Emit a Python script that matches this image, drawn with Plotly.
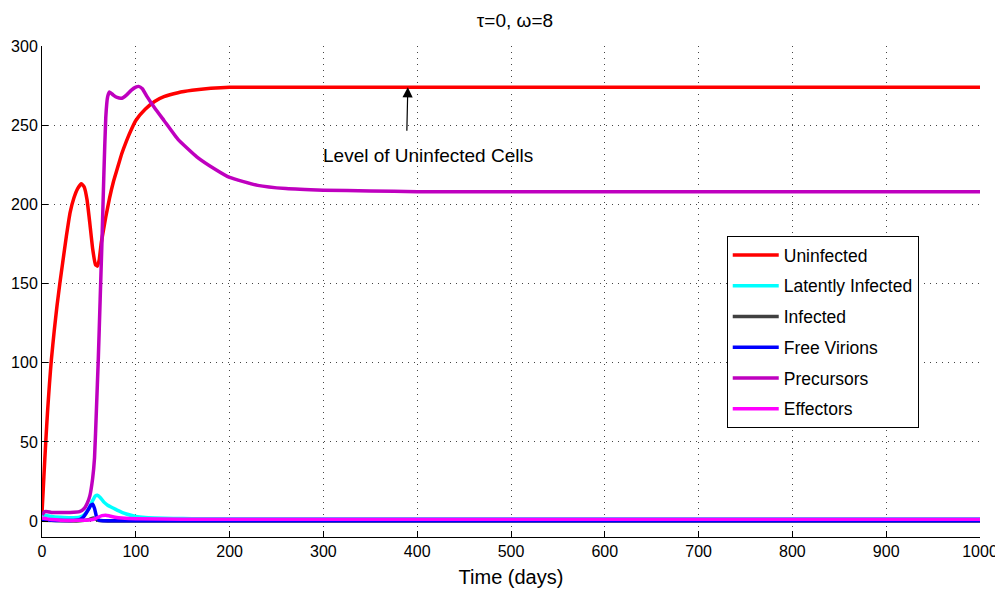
import plotly.graph_objects as go

# ---------------- data ----------------
t_uninf = [0, 2, 4, 6, 8, 10, 13, 16, 19, 22, 26, 30, 34, 38, 42, 45, 48, 51, 54, 57, 59,
           61, 63, 65, 68, 72, 76, 80, 85, 90, 95, 100, 110, 120, 130, 145, 160, 180, 200,
           250, 300, 400, 500, 600, 700, 800, 900, 1000]
v_uninf = [5, 28, 50, 70, 87, 102, 120, 136, 150, 163, 180, 195, 204, 210, 213, 211, 203, 188,
           172, 162, 161, 165, 175, 182, 192, 204, 214, 222, 232, 240, 247, 253, 260, 265, 268,
           270.5, 272, 273.3, 274, 274, 274, 274, 274, 274, 274, 274, 274, 274]

t_latent = [0, 5, 10, 20, 30, 40, 45, 50, 54, 57, 59, 62, 66, 70, 75, 80, 90, 100, 110, 120,
            140, 160, 200, 300, 1000]
v_latent = [4, 3.5, 3, 2.5, 2.2, 2.5, 4, 8, 13, 16, 16.4, 15, 12, 10, 8.5, 7, 4.5, 3, 2.3, 2,
            1.7, 1.6, 1.5, 1.5, 1.5]

t_infected = [0, 40, 50, 55, 60, 70, 1000]
v_infected = [0.5, 0.2, 1, 2, 0.5, 0.1, 0.1]

t_virions = [0, 10, 20, 30, 40, 44, 47, 50, 52, 54, 56, 58, 60, 65, 70, 100, 1000]
v_virions = [1, 0.6, 0.4, 0.4, 1, 2.5, 5, 8, 10, 10.7, 8, 3, 0.8, 0.3, 0.2, 0.2, 0.2]

t_precursors = [0, 3, 6, 10, 20, 30, 40, 45, 48, 51, 54, 56, 58, 60, 62, 64, 66, 68, 70, 72,
                76, 80, 85, 90, 95, 100, 103, 107, 112, 120, 130, 145, 165, 185, 200, 230,
                260, 300, 350, 400, 500, 600, 700, 800, 900, 1000]
v_precursors = [4, 6, 6, 5.5, 5.5, 5.5, 6, 8, 11, 16, 27, 40, 70, 102, 140, 178, 220, 255,
                268, 271, 269, 267.5, 267, 269, 272, 274, 274.5, 273, 268, 261, 253, 241,
                230, 222, 217, 212, 210, 209, 208.5, 208, 208, 208, 208, 208, 208, 208]

t_effectors = [0, 5, 10, 20, 40, 50, 55, 60, 64, 68, 72, 78, 85, 100, 150, 1000]
v_effectors = [2, 1.5, 1, 0.6, 0.5, 0.7, 1.2, 2.5, 3.5, 3.8, 3.3, 2.5, 2, 1.5, 1.2, 1.2]

series_names = ["Uninfected", "Latently Infected", "Infected", "Free Virions",
                "Precursors", "Effectors"]
series_colors = ["#FF0000", "#00FFFF", "#404040", "#0000FF", "#BF00BF", "#FF00FF"]

x_ticks = [0, 100, 200, 300, 400, 500, 600, 700, 800, 900, 1000]
y_ticks = [0, 50, 100, 150, 200, 250, 300]

annot_text = "Level of Uninfected Cells"
annot_point = (390, 274)
annot_text_pos = (412, 231)

# ---------------- figure ----------------
FONT = "Liberation Sans, Arial, Helvetica, sans-serif"
xs = [t_uninf, t_latent, t_infected, t_virions, t_precursors, t_effectors]
ys = [v_uninf, v_latent, v_infected, v_virions, v_precursors, v_effectors]

fig = go.Figure()
for i, (name, col, x, y) in enumerate(zip(series_names, series_colors, xs, ys)):
    fig.add_trace(go.Scatter(
        x=x, y=y, mode="lines", name=name, legendgroup=str(i),
        line=dict(color=col, width=3.5, shape="spline", smoothing=0.4),
    ))

axis_common = dict(
    showline=True, linecolor="black", linewidth=1,
    ticks="inside", ticklen=6, tickcolor="black",
    showgrid=True, gridcolor="#444444", gridwidth=1, griddash="1px,5px",
    zeroline=False, mirror=False, automargin=False,
    tickfont=dict(family=FONT, size=16, color="black"),
)

fig.update_xaxes(range=[0, 1000], tickvals=x_ticks, **axis_common,
                 title=dict(text="Time (days)", font=dict(family=FONT, size=20, color="black"),
                            standoff=10))
fig.update_yaxes(range=[-10, 300], tickvals=y_ticks, **axis_common)

fig.add_annotation(x=annot_point[0], y=annot_point[1], xref="x", yref="y",
                   text="", showarrow=True, ax=-1, ay=45,
                   arrowhead=2, arrowsize=1.7, arrowwidth=1.2, arrowcolor="black")
fig.add_annotation(x=annot_text_pos[0], y=annot_text_pos[1], xref="x", yref="y",
                   text=annot_text, showarrow=False,
                   font=dict(family=FONT, size=19, color="black"))

# page body has an 8px margin: figure is offset by it
fig.update_layout(
    width=995, height=585,
    margin=dict(l=34, r=23, t=38, b=56, autoexpand=False),
    paper_bgcolor="white", plot_bgcolor="white",
    title=dict(text="τ=0, ω=8", x=0.5095, xanchor="center", y=0.9795, yanchor="middle",
               font=dict(family=FONT, size=19, color="black")),
    legend=dict(x=0.730, y=0.613, xanchor="left", yanchor="top",
                bgcolor="white", bordercolor="black", borderwidth=1,
                font=dict(family=FONT, size=17.5, color="black"),
                tracegroupgap=5, itemwidth=46),
    showlegend=True,
)

fig.write_html("out.html")
